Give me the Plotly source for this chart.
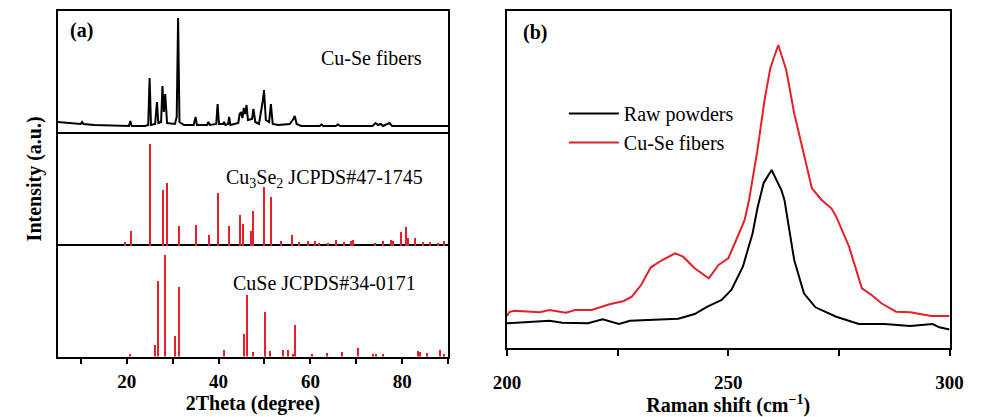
import plotly.graph_objects as go

# ---------------- data ----------------
# (a) XRD pattern of Cu-Se fibers (2theta, intensity a.u.)
xrd_theta = [5.0, 7.0, 9.0, 10.0, 10.3, 10.6, 13.0, 16.0, 19.0, 20.5, 20.8, 21.1, 24.0, 24.7, 25.0, 25.3,
             26.2, 26.6, 26.9, 27.5, 27.8, 28.1, 28.4, 28.8, 30.5, 30.9, 31.2, 31.5, 32.5, 34.6, 35.0, 35.3,
             37.5, 37.8, 38.1, 39.5, 39.8, 40.1, 41.0, 41.2, 41.5, 42.1, 42.3, 42.6, 44.3, 44.6, 44.9, 45.2,
             45.5, 45.8, 46.1, 46.4, 47.3, 47.6, 48.0, 48.8, 49.6, 49.9, 50.3, 51.0, 51.4, 51.8, 53.0, 55.5,
             56.3, 56.6, 57.0, 58.0, 60.0, 62.0, 62.4, 62.8, 65.5, 66.0, 66.5, 70.0, 73.5, 74.2, 74.7, 75.3,
             75.8, 77.2, 77.8, 80.0, 85.0, 90.0]
xrd_intensity = [10, 9, 8, 8, 10, 8, 7, 6.5, 6, 6, 11, 6, 6, 7, 54, 7,
                 8, 30, 9, 10, 46, 20, 38, 9, 8, 15, 114, 10, 7, 7, 15, 7,
                 7, 10, 7, 8, 28, 8, 8, 10, 7, 8, 15, 7, 9, 18, 20, 14,
                 24, 18, 27, 12, 13, 23, 10, 8, 30, 42, 12, 10, 28, 8, 7, 8,
                 13, 16, 8, 6, 6, 6, 7.5, 6, 6, 7.5, 6, 6, 6, 9, 7, 8,
                 6, 9, 6, 6, 6, 6]

# Cu3Se2 JCPDS#47-1745 reference lines
cu3se2_theta = [19.6, 20.8, 25.1, 27.9, 28.7, 31.3, 35.0, 37.8, 39.8, 42.2, 44.7, 45.3, 46.95, 47.5, 49.9,
                51.4, 53.5, 56.0, 57.5, 59.4, 60.9, 61.9, 63.8, 65.6, 67.3, 68.7, 69.2, 74.0, 75.7, 77.4,
                77.8, 79.6, 80.8, 81.2, 82.7, 84.5, 85.9, 87.7, 89.1]
cu3se2_int = [4, 15, 102, 56, 62.7, 19.7, 21, 11, 52.7, 20, 31.3, 22, 15.3, 35.3, 59.3,
              48.7, 5, 10.7, 3.7, 5, 5, 3, 3, 6, 4, 5.3, 6.3, 2.7, 5, 6.3,
              4.7, 13.7, 18.7, 8, 8, 4, 4, 3, 5]

# CuSe JCPDS#34-0171 reference lines
cuse_theta = [20.65, 26.1, 26.7, 28.2, 30.5, 31.3, 41.1, 45.4, 46.05, 47.5, 50.0, 51.2, 53.9, 55.0, 56.2,
              56.6, 60.2, 63.5, 66.8, 70.3, 73.6, 74.3, 75.7, 83.3, 83.8, 85.4, 88.2, 89.1]
cuse_int = [2.3, 11.7, 76, 101.7, 20.7, 70, 6.7, 22.7, 61.7, 5, 45, 5.7, 6.7, 6.7, 2.7,
            31.7, 2.3, 3.3, 4.7, 8.3, 2.7, 3, 2.3, 5.7, 4.7, 3.3, 6.7, 2.7]

# (b) Raman spectra
raman_raw_x = [200.0, 205.2, 209.6, 212.5, 218.3, 221.6, 225.3, 227.8, 233.6, 238.7, 242.4, 245.3, 248.5,
               250.7, 253.3, 255.5, 256.6, 258.0, 259.8, 262.0, 262.7, 264.9, 267.1, 269.7, 274.4, 279.5,
               285.3, 291.1, 296.2, 297.7, 300.0]
raman_raw_y = [24.7, 26.3, 27.3, 25.3, 24.7, 28.7, 24, 27.3, 28.7, 29.3, 34, 41.3, 48,
               58, 81.3, 114.7, 140, 165, 178, 158, 148, 88, 54.7, 40.7, 31.3, 24,
               24, 22, 24, 20.7, 18.5]
raman_fib_x = [200.0, 200.5, 201.6, 207.4, 209.6, 213.3, 215.4, 219.1, 223.4, 226.4, 228.2, 230.3, 232.5,
               235.1, 238.0, 239.8, 242.4, 245.6, 247.8, 250.0, 251.8, 253.7, 254.7, 256.6, 258.2, 259.5,
               261.3, 263.1, 264.9, 267.1, 268.9, 271.1, 273.3, 274.4, 277.3, 280.2, 282.4, 284.6, 287.9,
               291.1, 295.9, 300.0]
raman_fib_y = [32, 36, 37.3, 35.7, 38, 35.3, 38, 38, 44, 47, 51.3, 63, 80.7,
               88, 94.7, 91.3, 79.7, 69.7, 83, 89.7, 108, 128, 148, 198, 248, 279.7,
               303, 278, 234.7, 194.7, 159.7, 148, 139.7, 131.3, 101.3, 59.7, 53, 44.7, 36.3,
               35.7, 32, 32]

# ---------------- styling ----------------
W, H = 981, 417
RED = "#e5202a"
SERIF = "Liberation Serif, Times New Roman, serif"


def px_x(p):
    return p / W


def px_y(p):
    return 1 - p / H


LX = [px_x(45), px_x(447)]
RX = [px_x(507.5), px_x(963)]

fig = go.Figure()

fig.add_trace(go.Scatter(x=xrd_theta, y=xrd_intensity, mode="lines",
                         line=dict(color="black", width=2), xaxis="x3", yaxis="y3",
                         showlegend=False))
fig.add_trace(go.Bar(x=cu3se2_theta, y=cu3se2_int, width=0.45, marker=dict(color=RED, line_width=0),
                     xaxis="x2", yaxis="y2", showlegend=False))
fig.add_trace(go.Bar(x=cuse_theta, y=cuse_int, width=0.45, marker=dict(color=RED, line_width=0),
                     xaxis="x", yaxis="y", showlegend=False))

fig.add_trace(go.Scatter(x=raman_raw_x, y=raman_raw_y, mode="lines", name="Raw powders",
                         line=dict(color="black", width=2), xaxis="x4", yaxis="y4"))
fig.add_trace(go.Scatter(x=raman_fib_x, y=raman_fib_y, mode="lines", name="Cu-Se fibers",
                         line=dict(color=RED, width=2), xaxis="x4", yaxis="y4"))

box = dict(showline=True, linewidth=2, linecolor="black", mirror=True, showgrid=False,
           zeroline=False)
nobox = dict(showline=False, showgrid=False, zeroline=False, showticklabels=False, ticks="")
tickfont = dict(family=SERIF, size=19, color="black", weight="bold")
titlefont = dict(family=SERIF, size=20, color="black", weight="bold")

fig.update_layout(
    width=W, height=H,
    margin=dict(l=0, r=0, t=0, b=0),
    paper_bgcolor="white", plot_bgcolor="white",
    bargap=0,
    # bottom panel (CuSe) with the shared 2theta axis
    xaxis=dict(domain=LX, range=[5, 90], anchor="y", **box,
               tick0=0, dtick=20, ticks="outside", ticklen=5, tickwidth=2, tickcolor="black",
               minor=dict(tick0=0, dtick=10, ticks="outside", ticklen=5, tickwidth=2,
                          tickcolor="black", showgrid=False),
               tickfont=tickfont, ticklabelstandoff=2,
               title=dict(text="2Theta (degree)", font=titlefont, standoff=4)),
    yaxis=dict(domain=[px_y(356.5), px_y(246)], range=[0, 110.5], anchor="x", **box,
               showticklabels=False, ticks=""),
    # middle panel (Cu3Se2)
    xaxis2=dict(domain=LX, range=[5, 90], anchor="y2", **nobox),
    yaxis2=dict(domain=[px_y(246), px_y(134)], range=[0, 112], anchor="x2", **box,
                showticklabels=False, ticks=""),
    # top panel (fibers XRD)
    xaxis3=dict(domain=LX, range=[5, 90], anchor="y3", **box, showticklabels=False, ticks=""),
    yaxis3=dict(domain=[px_y(132), px_y(11)], range=[0, 121], anchor="x3", **box,
                showticklabels=False, ticks=""),
    # Raman panel
    xaxis4=dict(domain=RX, range=[200, 300], anchor="y4", **box,
                tick0=200, dtick=50, ticks="outside", ticklen=6, tickwidth=2, tickcolor="black",
                minor=dict(tick0=200, dtick=25, ticks="outside", ticklen=6, tickwidth=2,
                           tickcolor="black", showgrid=False),
                tickfont=tickfont, ticklabelstandoff=10,
                title=dict(text="Raman shift (cm<sup>−1</sup>)", font=titlefont, standoff=4)),
    yaxis4=dict(domain=[px_y(348), px_y(11)], range=[0, 337], anchor="x4", **box,
                showticklabels=False, ticks=""),
    legend=dict(x=px_x(566), y=px_y(94), xanchor="left", yanchor="top",
                bgcolor="rgba(0,0,0,0)", font=dict(family=SERIF, size=20, color="black"),
                itemwidth=50, tracegroupgap=0),
)

ann_font = dict(family=SERIF, size=20, color="black")
annotations = [
    dict(text="(a)", x=px_x(56), y=px_y(31), xanchor="left", yanchor="middle",
         font=dict(family=SERIF, size=20, color="black", weight="bold")),
    dict(text="(b)", x=px_x(522), y=px_y(33), xanchor="left", yanchor="middle",
         font=dict(family=SERIF, size=20, color="black", weight="bold")),
    dict(text="Cu-Se fibers", x=px_x(422), y=px_y(58), xanchor="right", yanchor="middle",
         font=ann_font),
    dict(text="Cu<sub>3</sub>Se<sub>2</sub> JCPDS#47-1745", x=px_x(423), y=px_y(178),
         xanchor="right", yanchor="middle", font=ann_font),
    dict(text="CuSe JCPDS#34-0171", x=px_x(416), y=px_y(283), xanchor="right",
         yanchor="middle", font=ann_font),
    dict(text="Intensity (a.u.)", x=px_x(21), y=px_y(179), xanchor="center", yanchor="middle",
         textangle=-90, font=titlefont),
]
for a in annotations:
    a.update(xref="paper", yref="paper", showarrow=False)
fig.update_layout(annotations=annotations)

fig.write_html("out.html")
